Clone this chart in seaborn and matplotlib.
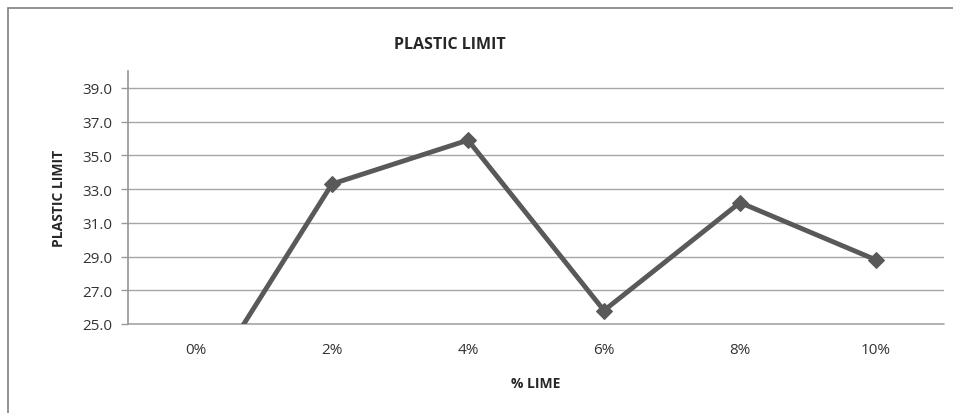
import matplotlib
matplotlib.use("Agg")
import matplotlib.pyplot as plt
import seaborn as sns
import pandas as pd
from matplotlib.patches import Rectangle

lime = ['0%', '2%', '4%', '6%', '8%', '10%']
plastic_limit = [20.5, 33.3, 35.9, 25.8, 32.2, 28.8]
y_ticks = [25, 27, 29, 31, 33, 35, 37, 39]

df = pd.DataFrame({'lime': lime, 'pl': plastic_limit})

sns.set_theme(style="white")
plt.rcParams['font.family'] = ['Open Sans', 'DejaVu Sans']

fig = plt.figure(figsize=(9.54, 4.14), dpi=100)
ax = fig.add_axes([128 / 954, 1 - 325 / 414, (944 - 128) / 954, (325 - 72) / 414])

# chart border like the Excel frame
fig.patches.append(Rectangle((8 / 954, -0.05), 1.1, 1.0 - 9 / 414 + 0.05, transform=fig.transFigure,
                             fill=False, edgecolor='#7f7f7f', linewidth=1.2))

sns.lineplot(data=df, x='lime', y='pl', ax=ax, color='#595959', linewidth=3.5,
             marker='D', markersize=8, markeredgecolor='#595959', sort=False, zorder=3)

ax.set_xlim(-0.5, len(lime) - 0.5)
ax.set_ylim(25, 40)
ax.set_yticks(y_ticks)
ax.set_yticklabels([f"{v:.1f}" for v in y_ticks], fontsize=11, color='#333333')
ax.tick_params(axis='x', labelsize=11, colors='#333333', length=0, pad=13)
ax.tick_params(axis='y', length=5, width=1, color='#999999', direction='out', left=True, pad=6)
ax.grid(axis='y', color='#a6a6a6', linewidth=1)
ax.axhline(25, color='#a6a6a6', linewidth=1.2, clip_on=False, zorder=2)
ax.set_axisbelow(True)
for s in ['top', 'right', 'bottom']:
    ax.spines[s].set_visible(False)
ax.spines['left'].set_color('#999999')

ax.set_xlabel('% LIME', fontsize=10, fontweight='bold', labelpad=14)
ax.set_ylabel('PLASTIC LIMIT', fontsize=10, fontweight='bold', labelpad=12)
fig.text(450 / 954, 1 - 45 / 414, 'PLASTIC LIMIT', fontsize=11.5, fontweight='bold',
         ha='center', va='center')

fig.savefig('out.png', dpi=100)
